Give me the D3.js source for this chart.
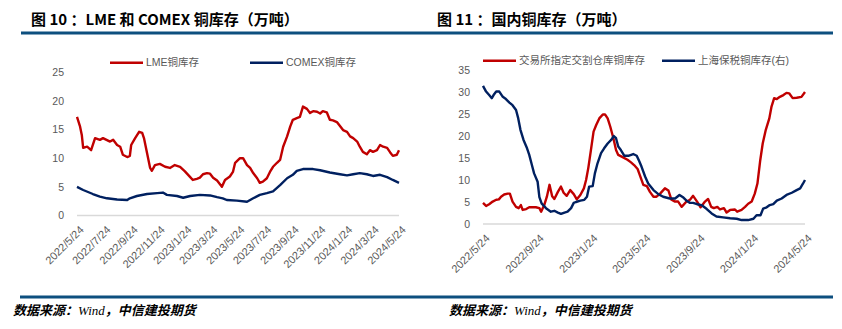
<!DOCTYPE html>
<html><head><meta charset="utf-8">
<script src="https://cdn.jsdelivr.net/npm/d3@7/dist/d3.min.js"></script>
<style>
html,body{margin:0;padding:0;background:#fff;}
svg{display:block;}
</style></head>
<body>
<svg id="c" width="842" height="329"></svg>
<script>
// ---------- DATA ----------
const leftTitle = "图 10 ：LME 和 COMEX 铜库存（万吨）";
const rightTitle = "图 11 ：国内铜库存（万吨）";
const sourceText = ["数据来源：", "Wind", "，中信建投期货"];

const leftSeriesNames = ["LME铜库存", "COMEX铜库存"];
const rightSeriesNames = ["交易所指定交割仓库铜库存", "上海保税铜库存(右)"];

const leftYTicks = [0, 5, 10, 15, 20, 25];
const rightYTicks = [0, 5, 10, 15, 20, 25, 30, 35];
const leftXTicks = ["2022/5/24","2022/7/24","2022/9/24","2022/11/24","2023/1/24","2023/3/24","2023/5/24","2023/7/24","2023/9/24","2023/11/24","2024/1/24","2024/3/24","2024/5/24"];
const rightXTicks = ["2022/5/24","2022/9/24","2023/1/24","2023/5/24","2023/9/24","2024/1/24","2024/5/24"];

const lmeDates = ["2022-05-24","2022-05-31","2022-06-04","2022-06-07","2022-06-16","2022-06-25","2022-07-04","2022-07-15","2022-07-22","2022-08-07","2022-08-14","2022-08-23","2022-08-30","2022-09-05","2022-09-15","2022-09-21","2022-09-24","2022-10-03","2022-10-12","2022-10-19","2022-10-23","2022-10-30","2022-11-06","2022-11-10","2022-11-17","2022-11-28","2022-12-10","2022-12-21","2023-01-01","2023-01-13","2023-01-24","2023-02-05","2023-02-11","2023-02-20","2023-02-27","2023-03-06","2023-03-15","2023-03-22","2023-03-29","2023-04-07","2023-04-14","2023-04-18","2023-04-25","2023-05-06","2023-05-13","2023-05-18","2023-05-29","2023-06-05","2023-06-14","2023-06-21","2023-06-28","2023-07-07","2023-07-13","2023-07-20","2023-07-29","2023-08-05","2023-08-12","2023-08-21","2023-08-28","2023-09-04","2023-09-13","2023-09-20","2023-09-26","2023-10-05","2023-10-12","2023-10-19","2023-10-28","2023-11-04","2023-11-11","2023-11-20","2023-11-27","2023-12-03","2023-12-12","2023-12-19","2023-12-26","2024-01-04","2024-01-11","2024-01-18","2024-01-27","2024-02-03","2024-02-10","2024-02-19","2024-02-25","2024-03-03","2024-03-12","2024-03-19","2024-03-26","2024-04-04","2024-04-11","2024-04-18","2024-04-27","2024-05-04","2024-05-10","2024-05-19","2024-05-24"];
const lmeValues = [17.2,15.5,14.0,11.8,12.0,11.4,13.5,13.2,13.5,12.9,13.2,12.3,12.0,10.6,10.2,10.4,12.3,13.5,14.6,14.4,13.5,10.9,8.3,7.8,8.8,9.0,8.5,8.3,8.8,8.5,7.7,6.7,6.2,6.4,6.6,7.2,7.4,7.3,6.6,6.1,5.4,5.0,6.2,6.8,7.6,9.2,10.0,10.0,8.8,8.3,7.4,6.5,5.7,5.9,6.5,7.6,8.5,9.2,9.7,12.0,13.8,15.5,16.7,17.0,17.2,19.0,18.6,17.9,18.2,18.1,17.8,18.2,18.0,16.7,16.6,16.3,15.6,14.9,14.6,13.8,13.5,12.9,12.0,11.1,10.7,11.4,11.1,11.4,12.3,12.0,11.8,11.0,10.4,10.6,11.4];

const comexDates = ["2022-05-24","2022-06-07","2022-06-29","2022-07-15","2022-07-31","2022-08-23","2022-09-15","2022-09-21","2022-10-07","2022-10-30","2022-11-22","2022-12-05","2022-12-14","2023-01-06","2023-01-20","2023-02-05","2023-02-27","2023-03-22","2023-04-07","2023-04-20","2023-04-29","2023-05-22","2023-06-14","2023-06-28","2023-07-13","2023-07-29","2023-08-12","2023-08-28","2023-09-13","2023-09-26","2023-10-05","2023-10-19","2023-11-11","2023-11-27","2023-12-19","2024-01-11","2024-01-27","2024-02-10","2024-02-25","2024-03-12","2024-03-26","2024-04-11","2024-04-27","2024-05-10","2024-05-24"];
const comexValues = [5.0,4.45,3.75,3.3,3.0,2.8,2.7,3.0,3.4,3.75,3.9,4.0,3.6,3.4,3.1,3.4,3.6,3.5,3.2,3.0,2.7,2.6,2.4,3.0,3.6,3.9,4.2,5.3,6.5,7.1,7.8,8.1,8.1,7.9,7.5,7.2,7.0,7.2,7.4,7.2,6.9,7.1,6.7,6.2,5.7];

const shfeDates = ["2022-05-24","2022-05-31","2022-06-07","2022-06-15","2022-06-23","2022-06-29","2022-07-04","2022-07-11","2022-07-19","2022-07-24","2022-07-30","2022-08-07","2022-08-13","2022-08-18","2022-08-22","2022-08-30","2022-09-06","2022-09-21","2022-09-29","2022-10-03","2022-10-10","2022-10-16","2022-10-22","2022-10-28","2022-11-02","2022-11-10","2022-11-17","2022-11-23","2022-11-30","2022-12-08","2022-12-16","2022-12-23","2022-12-31","2023-01-08","2023-01-13","2023-01-18","2023-01-24","2023-01-30","2023-02-05","2023-02-12","2023-02-20","2023-02-25","2023-03-03","2023-03-09","2023-03-16","2023-03-22","2023-03-27","2023-04-06","2023-04-17","2023-04-25","2023-05-02","2023-05-10","2023-05-15","2023-05-23","2023-05-31","2023-06-07","2023-06-15","2023-06-22","2023-06-30","2023-07-11","2023-07-19","2023-07-26","2023-08-03","2023-08-10","2023-08-18","2023-08-29","2023-09-06","2023-09-13","2023-09-22","2023-09-30","2023-10-10","2023-10-17","2023-10-24","2023-10-30","2023-11-07","2023-11-13","2023-11-22","2023-11-28","2023-12-06","2023-12-17","2023-12-22","2024-01-01","2024-01-09","2024-01-16","2024-01-24","2024-01-31","2024-02-06","2024-02-12","2024-02-18","2024-02-25","2024-03-04","2024-03-09","2024-03-15","2024-03-21","2024-03-28","2024-04-05","2024-04-12","2024-04-18","2024-04-26","2024-05-05","2024-05-16","2024-05-24"];
const shfeValues = [4.8,4.1,4.5,5.1,5.5,5.6,6.2,6.7,6.9,6.9,5.1,3.9,3.6,4.3,3.2,3.4,3.8,3.8,3.6,2.8,4.3,6.2,8.9,6.3,5.7,7.3,8.5,7.1,6.4,7.7,6.8,5.6,6.6,8.1,10.0,12.7,16.8,21.0,22.5,24.0,24.9,24.9,24.0,22.1,19.5,16.8,15.7,15.2,14.6,14.0,13.4,12.5,11.1,8.9,8.6,7.3,6.2,6.2,6.9,8.1,7.6,5.5,5.1,5.1,3.9,5.1,5.5,6.4,5.1,3.8,5.1,5.7,3.9,3.6,3.9,3.3,3.6,2.6,3.2,3.3,2.8,3.2,3.9,4.6,5.1,6.9,9.2,14.2,18.3,21.4,24.0,26.7,28.6,28.4,28.9,29.3,29.8,29.7,28.6,28.7,28.9,30.0];

const bondedDates = ["2022-05-24","2022-05-31","2022-06-07","2022-06-13","2022-06-17","2022-06-23","2022-06-30","2022-07-08","2022-07-15","2022-07-23","2022-07-30","2022-08-07","2022-08-12","2022-08-17","2022-08-24","2022-09-01","2022-09-06","2022-09-12","2022-09-17","2022-09-25","2022-09-29","2022-10-04","2022-10-14","2022-10-25","2022-11-02","2022-11-10","2022-11-17","2022-11-25","2022-12-02","2022-12-10","2022-12-16","2022-12-21","2022-12-31","2023-01-09","2023-01-15","2023-01-20","2023-01-28","2023-02-02","2023-02-08","2023-02-16","2023-02-23","2023-03-03","2023-03-11","2023-03-17","2023-03-22","2023-03-27","2023-04-02","2023-04-10","2023-04-19","2023-04-30","2023-05-08","2023-05-14","2023-05-19","2023-05-27","2023-06-03","2023-06-15","2023-06-26","2023-07-07","2023-07-22","2023-08-03","2023-08-13","2023-08-22","2023-08-29","2023-09-06","2023-09-13","2023-09-22","2023-10-02","2023-10-14","2023-10-25","2023-11-05","2023-11-20","2023-12-06","2023-12-21","2024-01-01","2024-01-16","2024-01-28","2024-02-04","2024-02-13","2024-02-19","2024-02-27","2024-03-05","2024-03-13","2024-03-21","2024-04-01","2024-04-12","2024-04-24","2024-05-05","2024-05-13","2024-05-19","2024-05-24"];
const bondedValues = [31.4,30.1,29.3,28.6,29.3,30.1,30.1,28.9,28.4,27.6,27.0,25.9,24.0,21.4,19.1,17.2,15.7,13.4,11.5,9.6,6.1,4.7,3.6,2.8,3.0,2.6,2.3,2.6,2.8,3.6,4.8,5.0,5.3,5.5,6.2,8.5,8.6,11.5,13.8,16.1,17.2,18.3,19.1,20.0,19.5,17.6,16.8,15.5,15.5,15.9,15.5,14.2,13.0,10.8,9.2,7.7,6.8,6.2,5.8,5.8,6.6,6.0,5.3,4.8,4.8,4.5,4.3,3.4,2.4,1.7,1.5,1.3,1.2,0.9,0.9,1.2,2.0,2.0,3.5,3.8,4.3,4.5,5.3,5.8,6.6,7.1,7.7,8.1,9.1,10.0];

// ---------- STYLE ----------
const RED = "#c00000", BLUE = "#002060", RULE = "#0d4f7f", TXT = "#595959";
const CJK = "'Noto Sans CJK SC','Noto Sans',sans-serif";
const LAT = "'Liberation Sans',Arial,'Noto Sans CJK SC',sans-serif";

const svg = d3.select("#c");
svg.append("rect").attr("width",842).attr("height",329).attr("fill","#fff");

// titles
svg.append("text").attr("x",31).attr("y",25).text(leftTitle)
  .attr("font-family",CJK).attr("font-weight","bold").attr("font-size",15).attr("fill","#000");
svg.append("text").attr("x",437).attr("y",25).text(rightTitle)
  .attr("font-family",CJK).attr("font-weight","bold").attr("font-size",15).attr("fill","#000");
// rules
svg.append("rect").attr("x",21).attr("y",31.5).attr("width",812).attr("height",3).attr("fill",RULE);
svg.append("rect").attr("x",20).attr("y",295.5).attr("width",813).attr("height",3).attr("fill",RULE);
// sources
[13,449].forEach(x0=>{
  const t = svg.append("text").attr("x",x0).attr("y",315).attr("font-size",13)
    .attr("font-weight","bold").attr("font-style","italic").attr("fill","#000");
  t.append("tspan").attr("font-family",CJK).text(sourceText[0]);
  t.append("tspan").attr("font-family","'Liberation Serif','Times New Roman',serif").attr("font-weight","normal").text(sourceText[1]);
  t.append("tspan").attr("font-family",CJK).text(sourceText[2]);
});

const parse = d3.timeParse("%Y-%m-%d");
const parseTick = d3.timeParse("%Y/%m/%d");

function panel(cfg){
  const x = d3.scaleTime().domain([parseTick("2022/5/24"), parseTick("2024/5/24")]).range(cfg.xr);
  const y = d3.scaleLinear().domain(cfg.yd).range(cfg.yr);
  const g = svg.append("g");
  // baseline
  g.append("line").attr("x1",cfg.xr[0]).attr("x2",cfg.xr[1]).attr("y1",y(0)).attr("y2",y(0))
    .attr("stroke","#d9d9d9").attr("stroke-width",1.5);
  // y axis
  const ya = g.append("g").attr("transform",`translate(${cfg.yLabelX},0)`)
    .call(d3.axisLeft(y).tickValues(cfg.yTicks).tickSize(0).tickPadding(0));
  ya.select(".domain").remove();
  ya.selectAll("text").attr("font-family",LAT).attr("font-size",10.5).attr("fill",TXT);
  // x axis
  const xa = g.append("g").attr("transform",`translate(0,${y(0)})`)
    .call(d3.axisBottom(x).tickValues(cfg.xTicks.map(parseTick)).tickFormat(d3.timeFormat("%Y/%-m/%-d")).tickSize(0));
  xa.select(".domain").remove();
  xa.selectAll("text").attr("font-family",LAT).attr("font-size",11).attr("fill",TXT)
    .attr("text-anchor","end").attr("dy",null).attr("y",null)
    .attr("transform","translate(7,15) rotate(-45)");
  // lines
  const line = d3.line().x(d=>x(d[0])).y(d=>y(d[1]));
  cfg.series.forEach(s=>{
    const pts = s.dates.map((d,i)=>[parse(d), s.values[i]]);
    g.append("path").datum(pts).attr("d",line).attr("fill","none")
      .attr("stroke",s.color).attr("stroke-width",2.4).attr("stroke-linejoin","round");
  });
  // legend
  cfg.legend.forEach(l=>{
    g.append("line").attr("x1",l.x).attr("x2",l.x+33).attr("y1",l.y).attr("y2",l.y)
      .attr("stroke",l.color).attr("stroke-width",2.4);
    g.append("text").attr("x",l.x+36).attr("y",l.y).attr("dy","0.35em").text(l.name)
      .attr("font-family",LAT).attr("font-size",10.5).attr("fill",TXT);
  });
}

panel({
  xr:[77,399], yd:[0,25], yr:[215.5,72.2], yLabelX:64, yTicks:leftYTicks, xTicks:leftXTicks,
  series:[{dates:lmeDates,values:lmeValues,color:RED},{dates:comexDates,values:comexValues,color:BLUE}],
  legend:[{x:110,y:62.7,color:RED,name:leftSeriesNames[0]},{x:250,y:62.7,color:BLUE,name:leftSeriesNames[1]}]
});
panel({
  xr:[483,805], yd:[0,35], yr:[224,70], yLabelX:470, yTicks:rightYTicks, xTicks:rightXTicks,
  series:[{dates:shfeDates,values:shfeValues,color:RED},{dates:bondedDates,values:bondedValues,color:BLUE}],
  legend:[{x:483,y:60.7,color:RED,name:rightSeriesNames[0]},{x:662,y:60.7,color:BLUE,name:rightSeriesNames[1]}]
});
</script>
</body></html>
